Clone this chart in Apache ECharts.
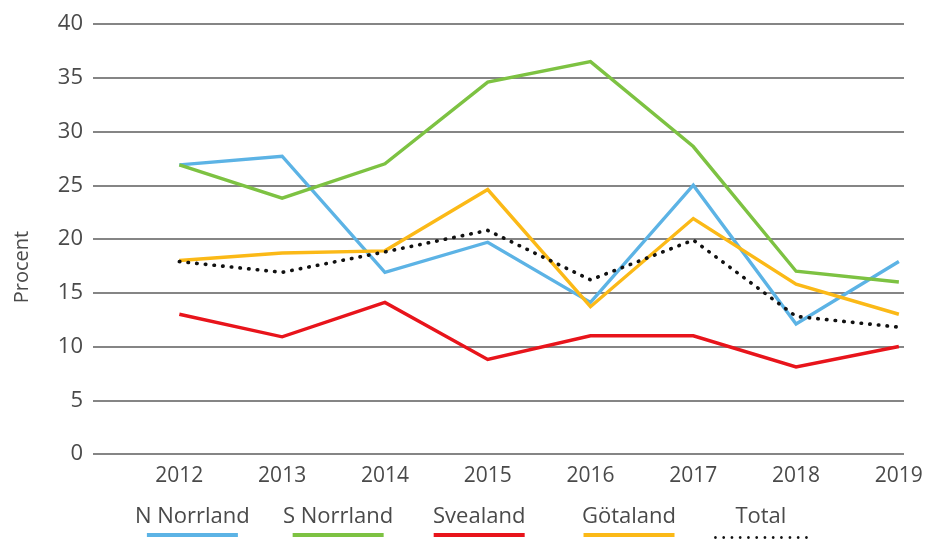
<!DOCTYPE html>
<html>
<head>
<meta charset="utf-8">
<style>
  html, body { margin: 0; padding: 0; background: #ffffff; }
  #chart { width: 934px; height: 540px; }
</style>
<script src="https://cdn.jsdelivr.net/npm/echarts@6/dist/echarts.min.js"></script>
</head>
<body>
<div id="chart"></div>
<script>
// Share per region and year, in percent
const years = [2012, 2013, 2014, 2015, 2016, 2017, 2018, 2019];
const nNorrland = [26.9, 27.7, 16.9, 19.7, 14.1, 25.0, 12.1, 17.9];
const sNorrland = [26.9, 23.8, 27.0, 34.6, 36.5, 28.6, 17.0, 16.0];
const svealand  = [13.0, 10.9, 14.1, 8.8, 11.0, 11.0, 8.1, 10.0];
const gotaland  = [18.0, 18.7, 18.9, 24.6, 13.7, 21.9, 15.8, 13.0];
const total     = [17.9, 16.9, 18.8, 20.8, 16.2, 19.9, 12.8, 11.8];
const yTicks = [0, 5, 10, 15, 20, 25, 30, 35, 40];

const FONT = '"Open Sans", "DejaVu Sans", sans-serif';
const TEXT = '#4a4a4a';

const seriesDefs = [
  { name: 'N Norrland', values: nNorrland, color: '#5cb3e5', key: 'nn', left: 130 },
  { name: 'S Norrland', values: sNorrland, color: '#7dc242', key: 'sn', left: 278 },
  { name: 'Svealand',   values: svealand,  color: '#e8141b', key: 'sv', left: 428 },
  { name: 'Götaland',   values: gotaland,  color: '#fbb917', key: 'go', left: 577 },
  { name: 'Total',      values: total,     color: '#111111', key: 'to', left: 708, dotted: true }
];

const toPoints = vals => years.map((y, i) => [y, vals[i]]);

// rich styles: label on top, coloured underline beneath
const rich = {
  t: { fontFamily: FONT, fontSize: 22, color: TEXT, lineHeight: 28, align: 'center' },
  dots: { fontFamily: FONT, fontSize: 13, color: '#111111', lineHeight: 10, align: 'center', padding: [4, 0, 0, 0] }
};
seriesDefs.forEach(d => {
  if (!d.dotted) {
    rich[d.key] = { width: 91, height: 4, lineHeight: 8, backgroundColor: d.color, align: 'center' };
  }
});

const legends = seriesDefs.map(d => ({
  data: [d.name],
  left: d.left,
  top: 506,
  padding: 0,
  itemWidth: 0,
  itemHeight: 0,
  icon: 'rect',
  selectedMode: false,
  formatter: name => d.dotted
    ? '{t|' + name + '}\n{dots|• • • • • • • • • • • •}'
    : '{t|' + name + '}\n{' + d.key + '|}',
  textStyle: { rich: rich }
}));

const series = seriesDefs.map(d => ({
  name: d.name,
  type: 'line',
  data: toPoints(d.values),
  symbol: 'none',
  color: d.color,
  silent: true,
  z: d.dotted ? 5 : 3,
  lineStyle: d.dotted
    ? { color: d.color, width: 3.6, type: [0.5, 8.2], cap: 'round' }
    : { color: d.color, width: 3.4, join: 'miter' }
}));

const chart = echarts.init(document.getElementById('chart'), null, { renderer: 'canvas' });
chart.setOption({
  backgroundColor: '#ffffff',
  animation: false,
  grid: { left: 93, right: 30, top: 24, bottom: 86, containLabel: false },
  legend: legends,
  xAxis: {
    type: 'value',
    min: 2011.16,
    max: 2019.05,
    axisLine: { show: false },
    axisTick: { show: false },
    splitLine: { show: false },
    axisLabel: {
      customValues: years,
      formatter: v => String(v),
      fontFamily: FONT,
      fontSize: 21,
      color: TEXT,
      margin: 12
    }
  },
  yAxis: {
    type: 'value',
    min: 0,
    max: 40,
    interval: 5,
    axisLine: { show: false },
    axisTick: { show: false },
    axisLabel: {
      customValues: yTicks,
      fontFamily: FONT,
      fontSize: 22,
      color: TEXT,
      margin: 10
    },
    splitLine: { lineStyle: { color: '#858585', width: 2 } }
  },
  graphic: [{
    type: 'text',
    x: 12,
    y: 267,
    rotation: Math.PI / 2,
    style: {
      text: 'Procent',
      fontFamily: FONT,
      fontSize: 20,
      fill: TEXT,
      align: 'center',
      verticalAlign: 'top'
    }
  }],
  series: series
});
</script>
</body>
</html>
